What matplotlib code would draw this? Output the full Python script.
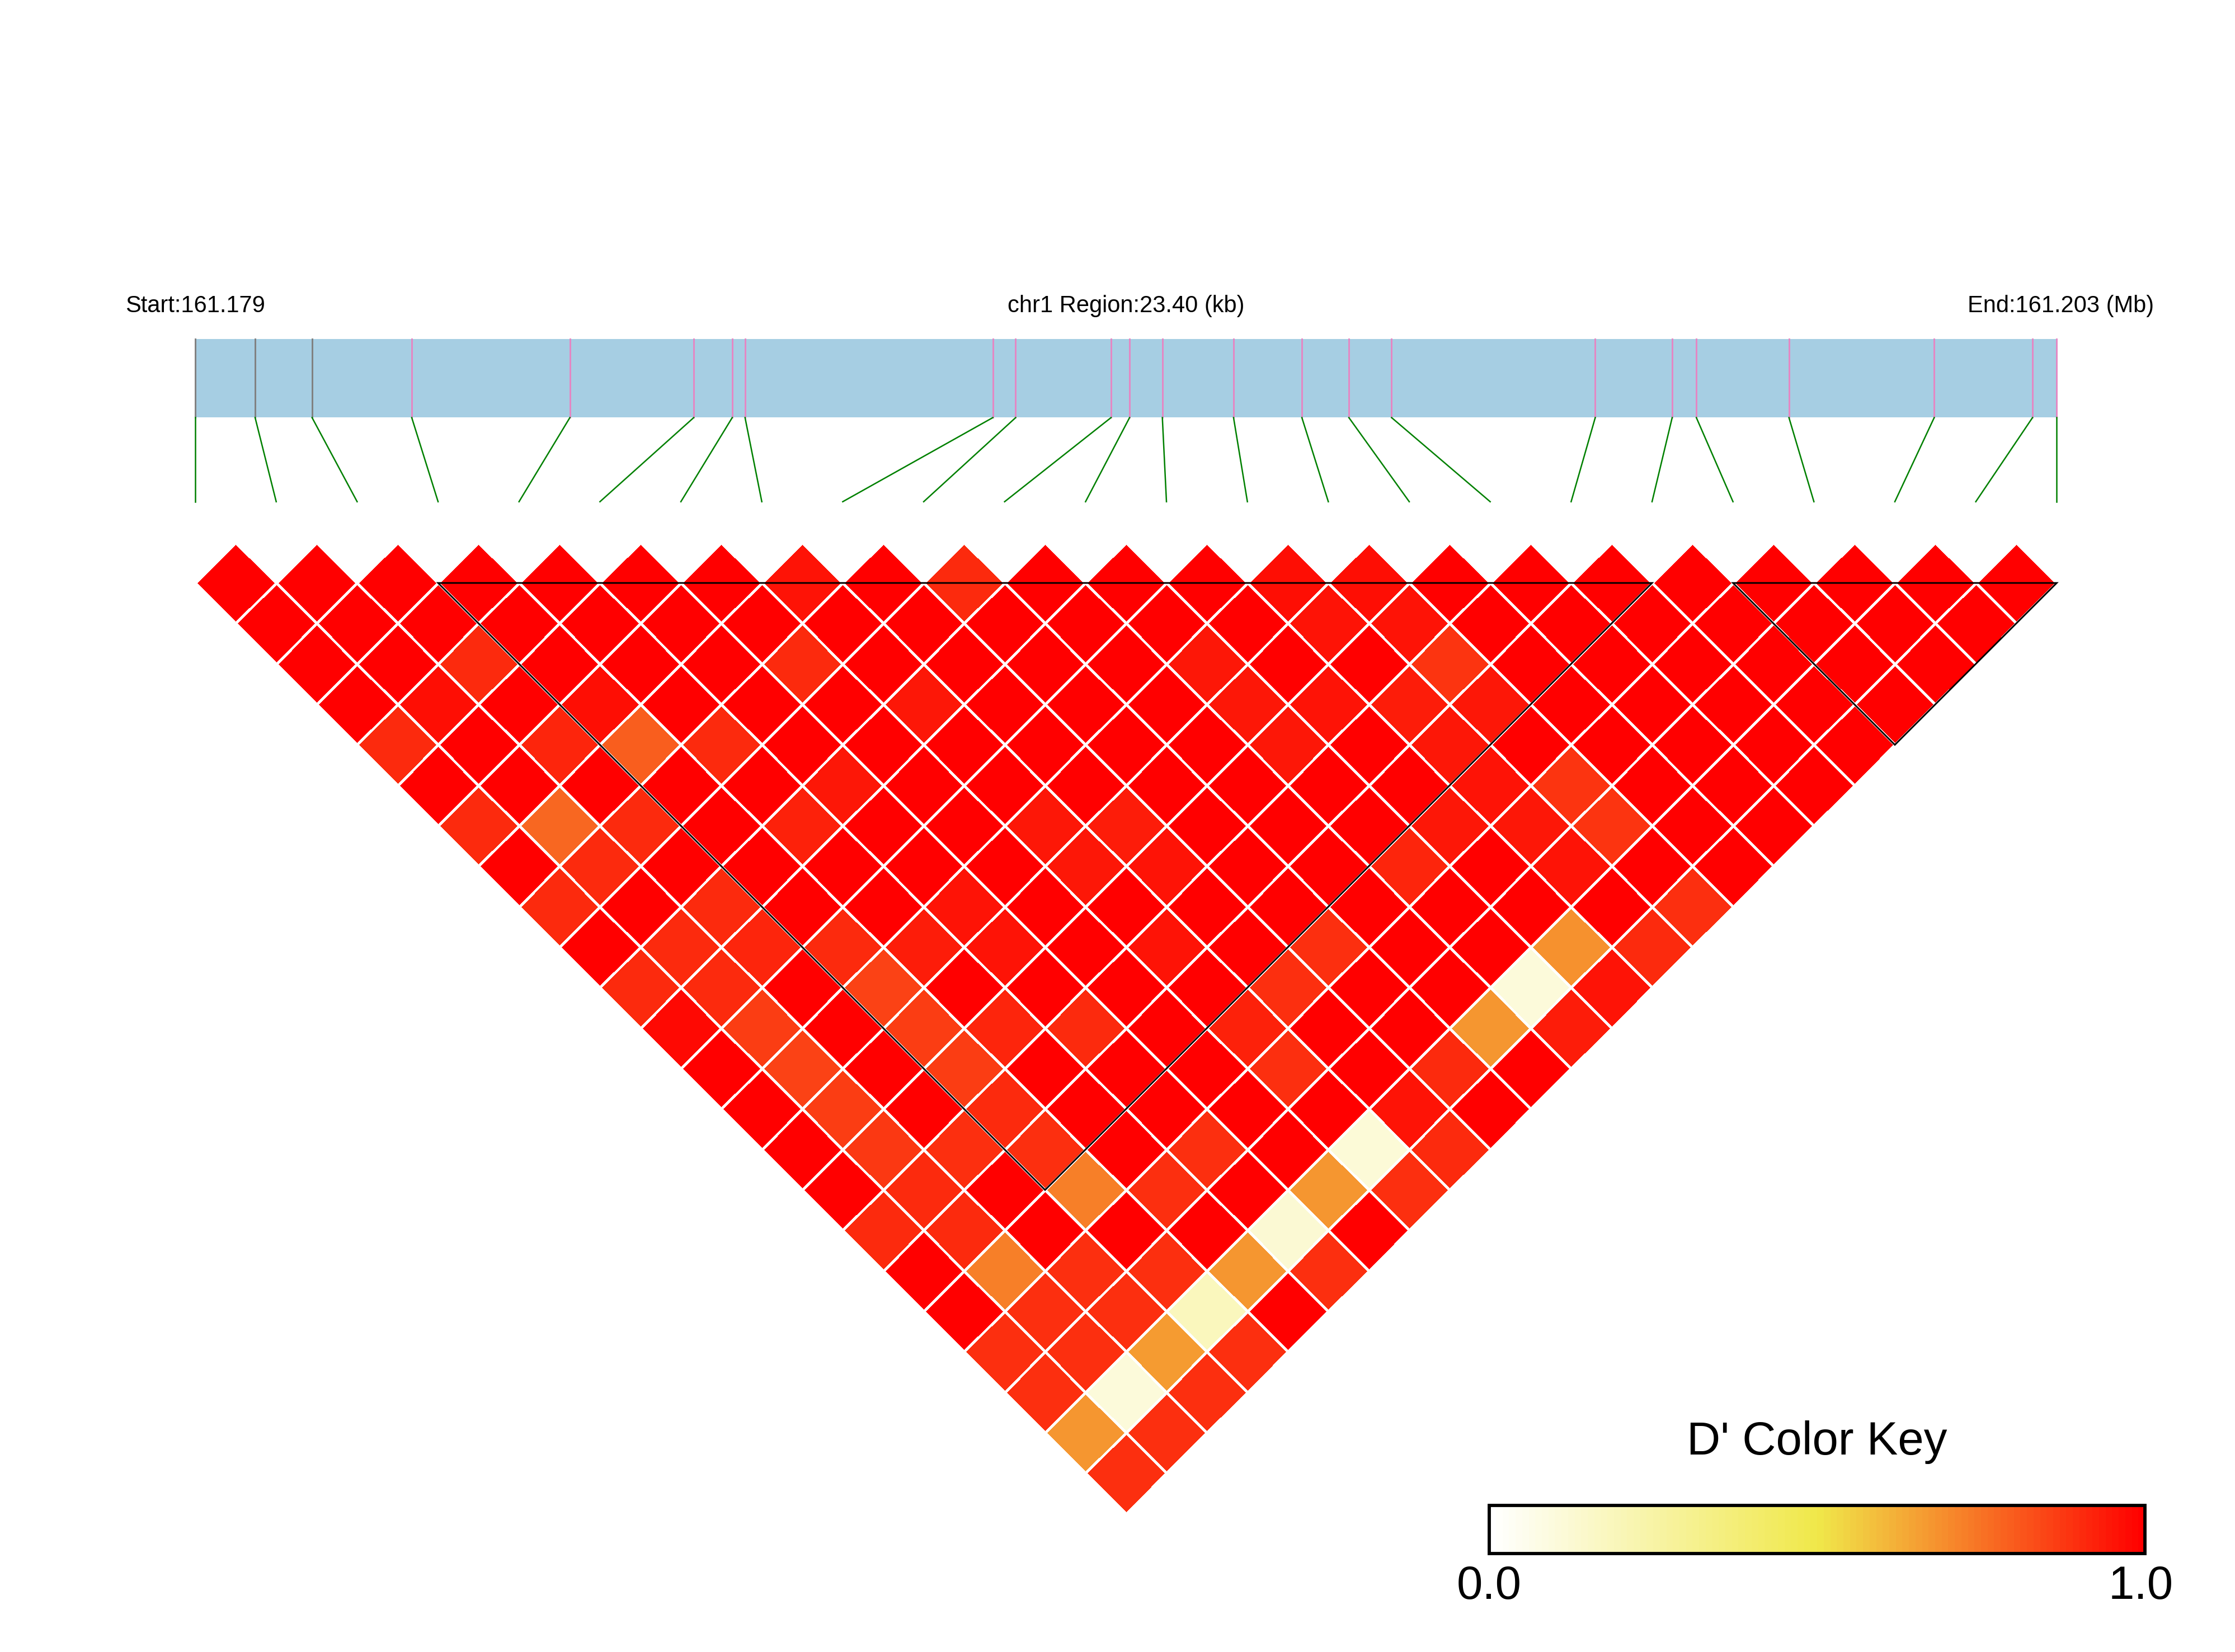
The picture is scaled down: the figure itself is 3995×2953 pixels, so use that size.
import numpy as np
import matplotlib.pyplot as plt
from matplotlib.colors import LinearSegmentedColormap
from matplotlib.patches import Rectangle, Polygon

plt.rcParams['font.family'] = ['Liberation Sans', 'DejaVu Sans']

chrom = "chr1"
# physical SNP positions (bp)
snp_bp = [161179350, 161180102, 161180818, 161182071, 161184059, 161185616,
          161186100, 161186261, 161189376, 161189663, 161190862, 161191095,
          161191507, 161192402, 161193261, 161193852, 161194389, 161196949,
          161197916, 161198220, 161199384, 161201210, 161202446, 161202750]
n_grey = 3  # first SNPs drawn with grey ticks

# D' values, row i holds pairs (i, i+1) .. (i, 23)
dprime_rows = [
    [1, 1, 1, 1, .90, 1, .90, 1, .90, 1, .90, .97, 1, 1, 1, 1, .90, 1, 1, .89, .89, .67, .89],
    [1, 1, 1, .96, 1, 1, .77, .90, 1, .90, .90, .86, .85, .86, .87, .90, .90, .72, .89, .89, .10, .89],
    [1, 1, .90, 1, .91, 1, .90, 1, .90, .91, 1, 1, 1, 1, .89, 1, 1, .89, .89, .66, .89],
    [1, 1, 1, .96, .79, 1, 1, 1, 1, .90, .85, .86, .86, .90, .89, .72, 1, .89, .18, .89],
    [1, 1, 1, 1, .90, 1, .92, 1, 1, .93, 1, .91, 1, 1, 1, .89, 1, .67, 1],
    [1, 1, 1, 1, 1, .94, 1, 1, .95, .95, 1, .90, 1, 1, .89, 1, .12, .89],
    [1, 1, .90, 1, 1, 1, 1, 1, 1, 1, 1, 1, 1, 1, 1, .67, 1],
    [.95, 1, 1, .94, 1, 1, .94, .94, 1, .95, 1, .92, .89, 1, .11, .89],
    [1, 1, 1, 1, 1, 1, .93, .95, 1, 1, .89, 1, 1, .95, .90],
    [.90, 1, 1, 1, 1, 1, 1, 1, 1, .89, 1, 1, .90, 1],
    [1, 1, 1, 1, 1, 1, 1, 1, 1, 1, 1, .67, 1],
    [1, 1, .94, .94, .94, 1, 1, .91, 1, 1, .10, .93],
    [1, 1, 1, .95, 1, 1, .94, 1, 1, .68, .95],
    [.96, .95, 1, .93, .94, .95, .94, .95, 1, .90],
    [.96, .95, .88, .94, 1, .88, .88, 1, .89],
    [1, 1, 1, 1, 1, 1, 1, 1],
    [1, 1, 1, 1, 1, 1, 1],
    [1, 1, 1, 1, 1, 1],
    [1, 1, 1, 1, 1],
    [1, 1, 1, 1],
    [1, 1, 1],
    [1, 1],
    [1],
]
blocks = [(3, 18), (19, 23)]

n = len(snp_bp)
D = np.full((n, n), np.nan)
for i, row in enumerate(dprime_rows):
    D[i, i + 1:] = row
C = np.ma.masked_invalid(D)

cmap = LinearSegmentedColormap.from_list('ld', ['#FFFFFF', '#F0E84A', '#FF0000'], N=100)

fig = plt.figure(figsize=(3995 / 300, 2953 / 300), dpi=300)
ax = fig.add_axes([0, 0, 1, 1])
ax.set_xlim(-2.413, 25.203)
ax.set_ylim(13.209, -7.203)
ax.axis('off')

# rotated LD matrix
P, Q = np.meshgrid(np.arange(n + 1), np.arange(n + 1), indexing='ij')
X = (P + Q - 1) / 2
Y = (Q - P - 1) / 2
ax.pcolormesh(X, Y, C, cmap=cmap, vmin=0, vmax=1, edgecolors='white', linewidth=0.8)

# haplotype blocks
for a, b in blocks:
    ax.add_patch(Polygon([(a, 0), (b, 0), ((a + b) / 2, (b - a) / 2)], closed=True,
                         fill=False, edgecolor='black', linewidth=0.7))

# gene map bar
span = n - 1
bp0, bp1 = snp_bp[0], snp_bp[-1]
xpos = [(p - bp0) / (bp1 - bp0) * span for p in snp_bp]
bar_top, bar_bot, line_end = -3.012, -2.043, -1.004
ax.add_patch(Rectangle((0, bar_top), span, bar_bot - bar_top, facecolor='#A6CEE3', edgecolor='none'))
for k, x in enumerate(xpos):
    col = '#808080' if k < n_grey else '#E586C3'
    ax.plot([x, x], [bar_top, bar_bot], color=col, linewidth=0.7)
    ax.plot([x, k], [bar_bot, line_end], color='#008000', linewidth=0.6)

ax.text(-0.863, -3.42, "Start:%.3f" % (bp0 / 1e6), ha='left', va='center', fontsize=10)
ax.text(span / 2, -3.42, "%s Region:%.2f (kb)" % (chrom, (bp1 - bp0) / 1000), ha='center', va='center', fontsize=10)
ax.text(24.2, -3.42, "End:%.3f (Mb)" % (bp1 / 1e6), ha='right', va='center', fontsize=10)

# colour key
kx0, kx1, ky0, ky1 = 15.99, 24.09, 11.395, 11.993
edges = np.linspace(kx0, kx1, 101)
vals = np.linspace(0, 1, 100)[None, :]
ax.pcolormesh(edges, [ky0, ky1], vals, cmap=cmap, vmin=0, vmax=1)
ax.add_patch(Rectangle((kx0, ky0), kx1 - kx0, ky1 - ky0, fill=False, edgecolor='black', linewidth=1.4))
ax.text((kx0 + kx1) / 2, 10.62, "D' Color Key", ha='center', va='center', fontsize=20)
ax.text(kx0, 12.40, "0.0", ha='center', va='center', fontsize=20)
ax.text(kx1 - 0.05, 12.40, "1.0", ha='center', va='center', fontsize=20)

fig.savefig('out.png', dpi=300, facecolor='white')
